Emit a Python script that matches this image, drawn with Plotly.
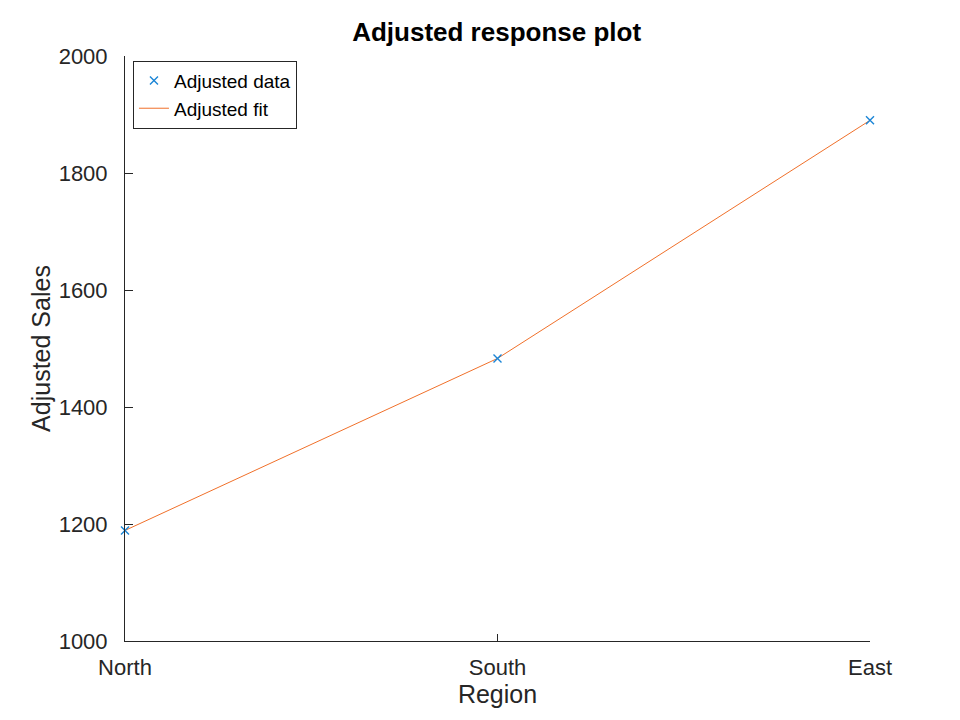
import plotly.graph_objects as go

# datos
regiones = ["North", "South", "East"]
ventas_ajustadas = [1189, 1483, 1890]
ventas_ajuste = [1189, 1483, 1890]

ancho = 960
alto = 720
FUENTE = "Liberation Sans, Arial, sans-serif"

fig = go.Figure()

fig.add_trace(go.Scatter(x=regiones, y=ventas_ajuste, mode="lines",
                         line=dict(color="#f0702a", width=1),
                         name="Adjusted fit"))

fig.add_trace(go.Scatter(x=regiones, y=ventas_ajustadas, mode="markers",
                         marker=dict(symbol="x-thin", size=8,
                                     line=dict(color="#1a85d6", width=1.4)),
                         cliponaxis=False,
                         name="Adjusted data"))

fig.update_layout(
    autosize=False,
    width=ancho,
    height=alto,
    margin=dict(l=117, r=98, t=48, b=87, pad=0),
    paper_bgcolor="white",
    plot_bgcolor="white",
    font=dict(family=FUENTE, color="#262626"),
    title=dict(text="<b>Adjusted response plot</b>", x=0.509, xanchor="center",
               y=0.967, yanchor="middle",
               font=dict(size=26, color="black")),
    legend=dict(x=0.0107, y=0.992, xanchor="left", yanchor="top",
                bgcolor="white", bordercolor="#262626", borderwidth=1,
                font=dict(size=19, color="black"), traceorder="reversed",
                tracegroupgap=0, itemwidth=30),
    showlegend=True,
)

fig.update_xaxes(
    type="category", range=[0, 2],
    showline=True, linecolor="#262626", linewidth=1,
    ticks="inside", ticklen=7, tickcolor="#262626",
    showgrid=False, zeroline=False, ticklabelstandoff=7,
    tickfont=dict(size=22, color="#262626"),
    title=dict(text="Region", font=dict(size=25, color="#262626"), standoff=0),
)

fig.update_yaxes(
    range=[1000, 2000], tickvals=[1000, 1200, 1400, 1600, 1800, 2000],
    showline=True, linecolor="#262626", linewidth=1,
    ticks="inside", ticklen=8, tickcolor="#262626",
    showgrid=False, zeroline=False, ticklabelstandoff=12,
    tickfont=dict(size=22, color="#262626"),
    title=dict(text="Adjusted Sales", font=dict(size=25, color="#262626"), standoff=0),
)

config = {"displayModeBar": False}
fig.write_html("out.html", config=config)
